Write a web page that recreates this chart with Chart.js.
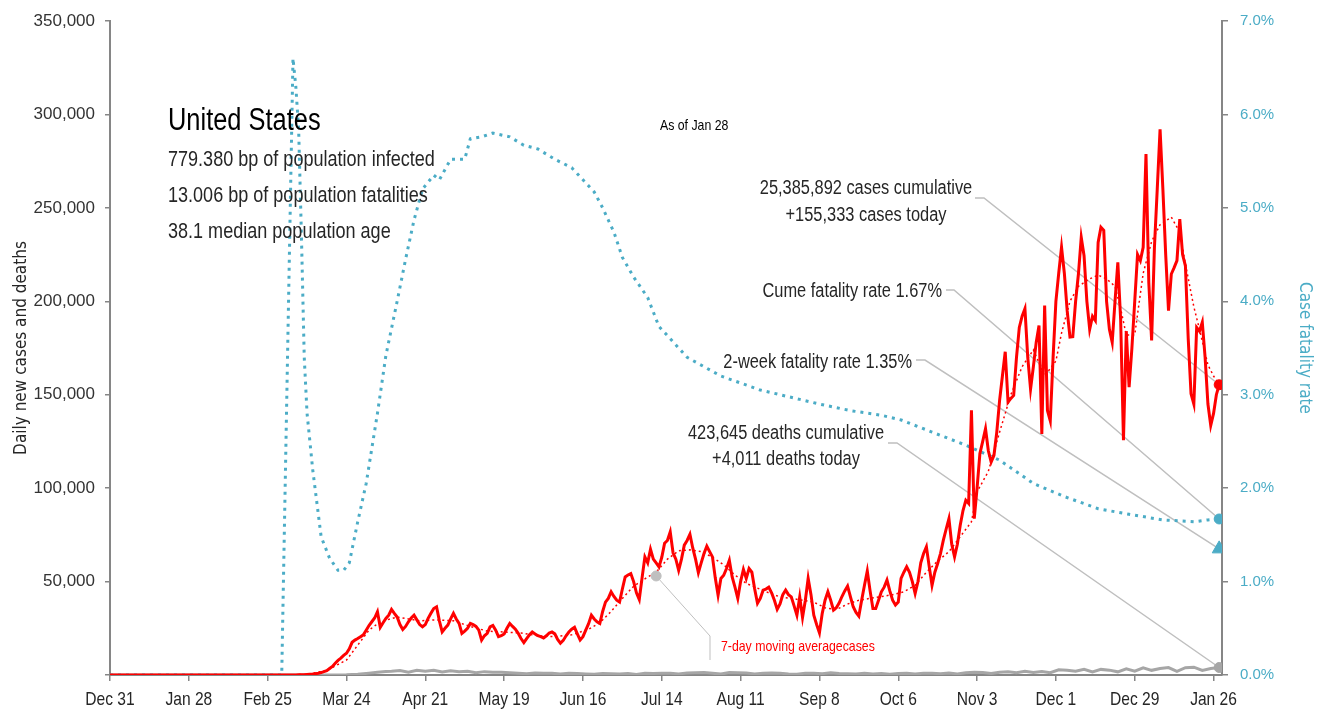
<!DOCTYPE html>
<html>
<head>
<meta charset="utf-8">
<script src="https://cdn.jsdelivr.net/npm/chart.js@4"></script>
<style>
  html, body { margin: 0; padding: 0; background: #fff; }
</style>
</head>
<body>
<canvas id="chart" width="1325" height="712"></canvas>
<script>
// x axis is days since Dec 31 2019
const tickDays = [0, 28, 56, 84, 112, 140, 168, 196, 224, 252, 280, 308, 336, 364, 392];
const tickLabels = ['Dec 31', 'Jan 28', 'Feb 25', 'Mar 24', 'Apr 21', 'May 19', 'Jun 16', 'Jul 14',
  'Aug 11', 'Sep 8', 'Oct 6', 'Nov 3', 'Dec 1', 'Dec 29', 'Jan 26'];

const firstDay = 0;
const caseStartDay = 60;
// daily new cases, one value per day from day 60 (Feb 29) to day 394 (Jan 28)
const dailyCases = [
  0, 10, 20, 20, 30, 40, 60, 100, 120, 180,
  300, 400, 500, 700, 900, 1300, 1800, 2300, 3500, 4600,
  6300, 7800, 9000, 10500, 11600, 14000, 17500, 18700, 19500, 20500,
  21500, 24000, 26500, 28500, 30500, 33800, 25500, 28000, 30300, 32000,
  35100, 33000, 31000, 27000, 24400, 26000, 28500, 30500, 32000, 29500,
  27000, 25800, 27000, 30300, 33000, 35600, 36500, 29000, 23100, 25000,
  26700, 30000, 33000, 30000, 27600, 22300, 23500, 25000, 27600, 27000,
  26000, 24000, 18700, 21000, 22300, 25800, 26500, 24000, 20500, 21000,
  22000, 25000, 27600, 26000, 24500, 22300, 19500, 17300, 19500, 21500,
  23000, 22000, 21000, 20500, 19800, 21000, 22500, 23000, 22000, 19000,
  17000, 18500, 21000, 23000, 24500, 25500, 22000, 18700, 20500, 24000,
  27500, 32000, 30000, 28500, 27600, 34000, 39000, 41000, 44500, 42000,
  40000, 39000, 46000, 52500, 53500, 54300, 50000, 44000, 40400, 52000,
  63200, 60000, 67300, 62000, 60000, 57900, 63000, 70500, 72000, 76600,
  65400, 62000, 56000, 62000, 69500, 72000, 75300, 68000, 62000, 54700,
  60000, 65000, 68900, 66000, 63200, 52000, 42700, 51700, 53400, 57000,
  61400, 52500, 47000, 41000, 50000, 56500, 51700, 57000, 55000, 46000,
  38400, 41000, 45400, 46000, 47000, 44000, 40000, 35100, 38000, 43000,
  45400, 43000, 41800, 37000, 32000, 41800, 30800, 40000, 51700, 43000,
  32000, 27000, 22600, 33000, 40000, 44500, 40000, 34700, 36000, 38500,
  42000, 45000, 47600, 42000, 36500, 33500, 31500, 40000, 48000, 55700,
  45000, 35600, 35600, 40000, 44500, 47000, 50800, 45000, 40000, 37400,
  39000, 51700, 55000, 57900, 55000, 50000, 43600, 50000, 60000, 65000,
  68600, 58000, 48000, 55000, 59700, 65000, 72000, 78000, 83700, 70000,
  63200, 70000, 80000, 88000, 93500, 91800, 141600, 83700, 100000, 118500,
  125000, 131800, 120000, 114000, 117600, 130000, 147000, 160000, 173000, 146000,
  148000, 149600, 170000, 186000, 192000, 196000, 170000, 153000, 165000, 178000,
  187000, 129000, 197700, 141600, 136000, 170000, 200000, 215000, 228900, 215000,
  195000, 180800, 181000, 200000, 214600, 234200, 224400, 200000, 185000, 192000,
  189700, 231500, 239600, 238000, 200000, 185000, 178000, 200000, 220800, 190000,
  125600, 184000, 154000, 175000, 200000, 225000, 221800, 228900, 278800, 210000,
  179000, 228900, 260000, 292000, 260000, 225000, 195000, 214600, 218000, 221800,
  244000, 225000, 219000, 180000, 150500, 145000, 186000, 184000, 188800, 170000,
  145000, 133600, 140000, 150000, 155333
];

// 7-day moving average of cases
const avgDays = [60, 70, 77, 84, 88, 92, 96, 102, 110, 116, 122, 128, 134, 140, 146, 152, 158, 164, 170, 174,
  178, 182, 186, 190, 194, 198, 202, 206, 210, 214, 218, 222, 226, 230, 234, 238, 242, 246, 250, 254,
  258, 262, 266, 270, 274, 278, 282, 286, 290, 294, 298, 302, 306, 308, 312, 316, 320, 324, 328, 332,
  336, 338, 341, 344, 348, 351, 354, 357, 359, 361, 364, 367, 370, 373, 377, 380, 382, 385, 387, 390, 392, 394];
const avgCases = [0, 300, 2500, 8000, 16000, 24000, 28500, 31000, 29000, 29500, 29000, 26000, 23500, 23000, 22500, 21000, 20500, 21500, 24500, 28000,
  34000, 41000, 47500, 51500, 55000, 62000, 66500, 67000, 66000, 63000, 59000, 53500, 49000, 46500, 44000, 41800, 41000, 40000, 39000, 36000,
  35000, 38000, 40000, 41000, 42000, 43000, 44500, 48000, 55000, 61000, 66000, 74000, 82000, 98000, 109000, 130000, 150000, 165000, 174000, 160000,
  168000, 183000, 200000, 208000, 212000, 214000, 212000, 208000, 196000, 182000, 182000, 215000, 232000, 241000, 245000, 237000, 220000, 197000, 185000, 166000, 160000, 155333];

// daily new deaths
const deathDays = [0, 80, 84, 88, 92, 95, 98, 100, 103, 106, 109, 112, 115, 118, 121, 124, 127, 130, 133, 136,
  139, 142, 145, 148, 151, 154, 157, 160, 163, 166, 169, 172, 175, 178, 181, 184, 187, 190, 193, 196,
  199, 202, 205, 208, 211, 214, 217, 220, 223, 226, 229, 232, 235, 238, 241, 244, 247, 250, 253, 256,
  259, 262, 265, 268, 271, 274, 277, 280, 283, 286, 289, 292, 295, 298, 301, 304, 307, 310, 313, 316,
  319, 322, 325, 328, 331, 334, 337, 340, 343, 346, 349, 352, 355, 358, 361, 364, 367, 370, 373, 376,
  379, 382, 385, 388, 391, 394];
const dailyDeaths = [0, 0, 100, 400, 1000, 1500, 1900, 2000, 2400, 1500, 2500, 2000, 2500, 1600, 2300, 1800, 2000, 1200, 1800, 1500,
  1500, 1200, 900, 700, 1100, 1000, 900, 500, 900, 800, 600, 400, 800, 700, 500, 800, 300, 900, 800, 900,
  1000, 600, 1100, 1200, 1300, 900, 500, 1300, 1200, 1100, 600, 1000, 1100, 1000, 500, 400, 1000, 900, 700, 1200,
  800, 700, 500, 900, 600, 800, 400, 800, 900, 500, 1000, 900, 700, 1100, 600, 1200, 1500, 1300, 800, 1500,
  1700, 1200, 2000, 1400, 1900, 1200, 2800, 2600, 2000, 3100, 1600, 3000, 2600, 1700, 3300, 2000, 3800, 2500, 3500, 4000,
  2000, 3900, 4200, 2400, 3500, 4011];

// case fatality rate, percent
const cfrDays = [0, 61, 65, 66, 67, 68, 69, 70, 72, 75, 78, 81, 83, 85, 88, 91, 95, 98, 102, 105,
  108, 111, 115, 117, 121, 126, 128, 132, 136, 142, 147, 152, 158, 164, 168, 172, 175, 179, 182, 186,
  191, 195, 199, 205, 217, 231, 245, 252, 263, 274, 281, 292, 304, 316, 328, 339, 351, 362, 374, 385, 390, 394];
const cfrRates = [0, 0, 6.6, 6.3, 5.85, 4.7, 3.4, 2.8, 2.2, 1.48, 1.25, 1.12, 1.12, 1.2, 1.64, 2.05, 2.8, 3.42, 4.0, 4.45,
  4.87, 5.2, 5.35, 5.3, 5.52, 5.52, 5.74, 5.76, 5.8, 5.76, 5.67, 5.63, 5.52, 5.43, 5.3, 5.17, 5.0, 4.74, 4.47, 4.26,
  4.04, 3.73, 3.6, 3.4, 3.2, 3.05, 2.95, 2.9, 2.83, 2.78, 2.73, 2.6, 2.46, 2.3, 2.05, 1.91, 1.78, 1.72, 1.66, 1.64, 1.66, 1.67];

// latest figures (as of Jan 28)
const lastDay = 394;
const casesToday = 155333;
const deathsToday = 4011;
const cumeFatality = 1.67;
const twoWeekFatality = 1.35;
const avgMarkDay = 194;
const avgMarkValue = 53000;

const RED = '#ff0000', BLUE = '#4bacc6', GRAY = '#a6a6a6', LEADER = '#bfbfbf', AXIS = '#868686', INK = '#262626';
const SANS = "'Liberation Sans', Arial, sans-serif";
const CONDENSED = "'DejaVu Sans Condensed', 'DejaVu Sans', sans-serif";
const SQUEEZE = 0.82; // narrow look from a regular face

function pairs(days, vals) {
  return days.map((d, i) => ({ x: d, y: vals[i] }));
}
const casePoints = [{ x: firstDay, y: 0 }].concat(dailyCases.map((v, i) => ({ x: caseStartDay + i, y: v })));

function text(ctx, s, x, y, size, color, align) {
  ctx.save();
  ctx.translate(x, y);
  ctx.scale(SQUEEZE, 1);
  ctx.font = size + 'px ' + SANS;
  ctx.fillStyle = color;
  ctx.textAlign = align || 'left';
  ctx.textBaseline = 'middle';
  ctx.fillText(s, 0, 0);
  ctx.restore();
}

function leader(ctx, x0, y0, x1, x2, y2) {
  ctx.save();
  ctx.strokeStyle = LEADER;
  ctx.lineWidth = 1.5;
  ctx.beginPath();
  ctx.moveTo(x0, y0);
  ctx.lineTo(x1, y0);
  ctx.lineTo(x2, y2);
  ctx.stroke();
  ctx.restore();
}

const notes = {
  id: 'notes',
  beforeDatasetsDraw(chart) {
    const { ctx, scales } = chart;
    const ex = scales.x.getPixelForValue(lastDay);
    leader(ctx, 975, 198, 984, ex, scales.y.getPixelForValue(casesToday));
    leader(ctx, 946, 290, 954, ex, scales.y1.getPixelForValue(cumeFatality));
    leader(ctx, 916, 360, 925, ex, scales.y1.getPixelForValue(twoWeekFatality));
    leader(ctx, 888, 443, 897, ex, scales.y.getPixelForValue(deathsToday));
    // moving average callout
    const ax = scales.x.getPixelForValue(avgMarkDay), ay = scales.y.getPixelForValue(avgMarkValue);
    ctx.save();
    ctx.strokeStyle = LEADER;
    ctx.lineWidth = 1;
    ctx.beginPath();
    ctx.moveTo(ax, ay);
    ctx.lineTo(710, 636);
    ctx.lineTo(710, 660);
    ctx.stroke();
    ctx.restore();
  },
  afterDraw(chart) {
    const { ctx, scales } = chart;
    // x tick labels in a narrow face
    scales.x.ticks.forEach((t, i) => {
      text(ctx, tickLabels[i], scales.x.getPixelForValue(t.value), 700, 19, INK, 'center');
    });
    text(ctx, 'United States', 168, 121, 31, '#000');
    text(ctx, '779.380 bp of population infected', 168, 160, 22, INK);
    text(ctx, '13.006 bp of population fatalities', 168, 196, 22, INK);
    text(ctx, '38.1 median population age', 168, 232, 22, INK);
    text(ctx, 'As of Jan 28', 660, 126, 15, '#000');
    text(ctx, '25,385,892 cases cumulative', 866, 188, 20, INK, 'center');
    text(ctx, '+155,333 cases today', 866, 215, 20, INK, 'center');
    text(ctx, 'Cume fatality rate 1.67%', 942, 291, 20, INK, 'right');
    text(ctx, '2-week fatality rate 1.35%', 912, 362, 20, INK, 'right');
    text(ctx, '423,645 deaths cumulative', 786, 433, 20, INK, 'center');
    text(ctx, '+4,011 deaths today', 786, 459, 20, INK, 'center');
    text(ctx, '7-day moving averagecases', 721, 647, 15, RED);
  }
};

new Chart(document.getElementById('chart'), {
  type: 'line',
  data: {
    datasets: [
      { data: [{ x: lastDay, y: casesToday }], yAxisID: 'y', showLine: false, pointRadius: 5, pointBackgroundColor: RED, pointBorderColor: RED, order: 0 },
      { data: [{ x: lastDay, y: deathsToday }], yAxisID: 'y', showLine: false, pointRadius: 5, pointBackgroundColor: GRAY, pointBorderColor: GRAY, order: 0 },
      { data: [{ x: lastDay, y: cumeFatality }], yAxisID: 'y1', showLine: false, pointRadius: 5, pointBackgroundColor: BLUE, pointBorderColor: BLUE, order: 0 },
      { data: [{ x: lastDay, y: twoWeekFatality }], yAxisID: 'y1', showLine: false, pointStyle: 'triangle', pointRadius: 8, pointBackgroundColor: BLUE, pointBorderColor: BLUE, order: 0 },
      { data: [{ x: avgMarkDay, y: avgMarkValue }], yAxisID: 'y', showLine: false, pointRadius: 5, pointBackgroundColor: LEADER, pointBorderColor: LEADER, order: 0 },
      { label: 'Daily cases', data: casePoints, yAxisID: 'y', borderColor: RED, borderWidth: 3, pointRadius: 0, tension: 0, order: 1 },
      { label: '7-day moving average cases', data: pairs(avgDays, avgCases), yAxisID: 'y', borderColor: RED, borderWidth: 1.5, borderDash: [2, 3], pointRadius: 0, order: 2 },
      { label: 'Case fatality rate', data: pairs(cfrDays, cfrRates), yAxisID: 'y1', borderColor: BLUE, borderWidth: 3, borderDash: [3, 5], pointRadius: 0, order: 3 },
      { label: 'Daily deaths', data: pairs(deathDays, dailyDeaths), yAxisID: 'y', borderColor: GRAY, borderWidth: 3, pointRadius: 0, order: 4 }
    ]
  },
  options: {
    responsive: false,
    animation: false,
    layout: { padding: { top: 10, left: 0, right: 0, bottom: 0 } },
    plugins: { legend: { display: false }, tooltip: { enabled: false } },
    scales: {
      x: {
        type: 'linear', min: 0, max: 395,
        afterBuildTicks: s => { s.ticks = tickDays.map(v => ({ value: v })); },
        afterFit: s => { s.height = 37; },
        ticks: { display: false },
        grid: { drawOnChartArea: false, color: AXIS, tickLength: 6, lineWidth: 1.5 },
        border: { color: AXIS, width: 2 }
      },
      y: {
        position: 'left', min: 0, max: 350000,
        afterFit: s => { s.width = 110; },
        ticks: { stepSize: 50000, callback: v => v === 0 ? '' : v.toLocaleString('en-US'), color: '#333', font: { family: SANS, size: 17 }, padding: 10 },
        grid: { drawOnChartArea: false, color: AXIS, tickLength: 5, lineWidth: 1.5 },
        border: { color: AXIS, width: 2 },
        title: { display: true, text: 'Daily new cases and deaths', color: INK, font: { family: CONDENSED, size: 17 }, padding: { top: 11, bottom: 0 } }
      },
      y1: {
        position: 'right', min: 0, max: 7,
        afterFit: s => { s.width = 103; },
        ticks: { stepSize: 1, callback: v => v.toFixed(1) + '%', color: BLUE, font: { family: SANS, size: 15 }, padding: 12 },
        grid: { drawOnChartArea: false, color: AXIS, tickLength: 6, lineWidth: 1.5 },
        border: { color: AXIS, width: 2 },
        title: { display: true, text: 'Case fatality rate', color: BLUE, font: { family: CONDENSED, size: 17 }, padding: { top: 10, bottom: 0 } }
      }
    }
  },
  plugins: [notes]
});
</script>
</body>
</html>
